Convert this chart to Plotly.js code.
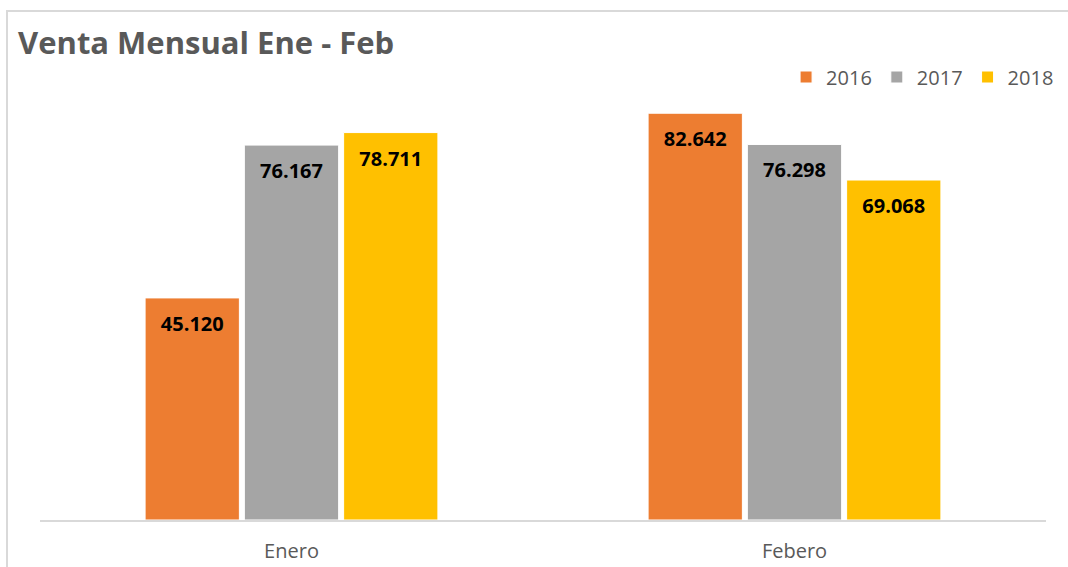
<!DOCTYPE html>
<html>
<head>
<meta charset="utf-8">
<script src="https://cdn.plot.ly/plotly-3.0.1.min.js"></script>
<style>html,body{margin:0;padding:0;background:#fff;}#chart{width:1068px;height:567px;}</style>
</head>
<body>
<div id="chart"></div>
<script>
const categories = ["Enero", "Febero"];
const years = ["2016", "2017", "2018"];
const values2016 = [45120, 82642];
const values2017 = [76167, 76298];
const values2018 = [78711, 69068];
const colors = ["#ED7D31", "#A5A5A5", "#FFC000"];

const series = [values2016, values2017, values2018];
const traces = series.map((vals, i) => ({
  type: "bar",
  name: years[i],
  x: categories,
  y: vals,
  marker: {color: colors[i], line: {color: "#ffffff", width: 1}},
  texttemplate: "<span style='font-size:4px'>&nbsp;</span><br>%{y:,.0f}",
  textposition: "inside",
  insidetextanchor: "end",
  textangle: 0,
  constraintext: "none",
  textfont: {family: "Open Sans, sans-serif", size: 20, color: "#000000", weight: "bold"},
  hoverinfo: "skip"
}));

const layout = {
  width: 1068,
  height: 567,
  separators: ",.",
  margin: {l: 40, r: 22, t: 77, b: 47, autoexpand: false},
  paper_bgcolor: "#ffffff",
  plot_bgcolor: "#ffffff",
  barmode: "group",
  bargap: 0.408,
  bargroupgap: 0.05,
  title: {
    text: "<b>Venta Mensual Ene - Feb</b>",
    x: 0.0169, xanchor: "left", xref: "container",
    y: 0.924, yanchor: "middle", yref: "container",
    font: {family: "Open Sans, sans-serif", size: 31, color: "#595959"}
  },
  showlegend: true,
  legend: {
    orientation: "h",
    x: 1.013, xanchor: "right",
    y: 1.0, yanchor: "middle",
    font: {family: "Open Sans, sans-serif", size: 20, color: "#595959"},
    bgcolor: "rgba(0,0,0,0)",
    traceorder: "normal"
  },
  xaxis: {
    type: "category",
    showline: true,
    linecolor: "#d9d9d9",
    linewidth: 2,
    ticks: "",
    ticklabelstandoff: 12,
    tickfont: {family: "Open Sans, sans-serif", size: 20, color: "#595959"},
    showgrid: false,
    zeroline: false,
    fixedrange: true
  },
  yaxis: {
    range: [0, 90000],
    visible: false,
    showgrid: false,
    zeroline: false,
    fixedrange: true
  },
  shapes: [{
    type: "rect", xref: "paper", yref: "paper",
    x0: -0.0328, x1: 1.05, y0: -0.3, y1: 1.149,
    line: {color: "#d9d9d9", width: 2},
    fillcolor: "rgba(0,0,0,0)",
    layer: "below"
  }]
};

Plotly.newPlot("chart", traces, layout, {displayModeBar: false, staticPlot: true});
</script>
</body>
</html>
